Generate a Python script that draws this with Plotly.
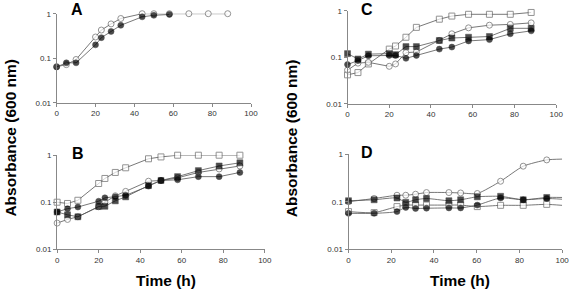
import plotly.graph_objects as go

W, H = 576, 293

# ---- data ----
t_ab = [0, 5, 10, 20, 23, 28, 33, 44, 50, 58, 68, 78, 88]
A_filled_circle_t = [0, 5, 10, 20, 23, 28, 33, 44, 50, 58]
A_filled_circle = [0.064, 0.079, 0.079, 0.20, 0.29, 0.40, 0.55, 0.85, 0.92, 0.96]
A_open_circle = [0.065, 0.072, 0.094, 0.30, 0.43, 0.59, 0.78, 1.0, 1.0, 1.0, 1.0, 1.0, 1.0]

B_open_square = [0.10, 0.094, 0.11, 0.25, 0.32, 0.43, 0.54, 0.84, 0.92, 1.0, 1.0, 1.0, 1.0]
B_filled_square = [0.062, 0.054, 0.049, 0.081, 0.082, 0.107, 0.13, 0.226, 0.29, 0.35, 0.47, 0.59, 0.69]
B_filled_circle = [0.062, 0.073, 0.079, 0.105, 0.124, 0.13, 0.14, 0.22, 0.29, 0.30, 0.35, 0.35, 0.43]
B_open_circle = [0.036, 0.043, 0.049, 0.08, 0.10, 0.137, 0.17, 0.28, 0.29, 0.33, 0.43, 0.51, 0.59]

C_open_square = [0.042, 0.047, 0.072, 0.15, 0.175, 0.27, 0.44, 0.66, 0.77, 0.84, 0.84, 0.84, 0.92]
C_open_circle = [0.053, 0.075, 0.078, 0.064, 0.072, 0.126, 0.13, 0.23, 0.32, 0.43, 0.49, 0.51, 0.55]
C_filled_square = [0.12, 0.092, 0.117, 0.12, 0.114, 0.17, 0.17, 0.23, 0.26, 0.27, 0.28, 0.42, 0.42]
C_filled_circle = [0.07, 0.085, 0.108, 0.11, 0.11, 0.095, 0.11, 0.15, 0.166, 0.225, 0.24, 0.32, 0.37]

t_d = [0, 12, 22.7, 26.8, 31.4, 36.5, 47, 52.5, 60.3, 71.2, 81.8, 92.8, 100]
D_open_circle = [0.10, 0.117, 0.137, 0.137, 0.144, 0.156, 0.156, 0.153, 0.149, 0.27, 0.56, 0.76, 0.79]
D_filled_square = [0.105, 0.11, 0.12, 0.097, 0.11, 0.117, 0.105, 0.11, 0.127, 0.13, 0.11, 0.123, 0.123]
D_filled_circle = [0.057, 0.057, 0.062, 0.076, 0.072, 0.073, 0.074, 0.074, 0.085, 0.12, 0.11, 0.117, 0.113]
D_open_square = [0.062, 0.059, 0.079, 0.085, 0.085, 0.085, 0.085, 0.085, 0.079, 0.084, 0.084, 0.088, 0.084]

x_ticks = [0, 20, 40, 60, 80, 100]
y_ticks = [0.01, 0.1, 1]
y_ticktext = ["0.01", "0.1", "1"]
panel_labels = ["A", "B", "C", "D"]

LINE = "#555555"
OPEN_EDGE = "#666666"

STYLES = {
    "filled_circle": dict(symbol="circle", color="black", line=dict(color="black", width=0.5)),
    "open_circle": dict(symbol="circle", color="white", line=dict(color=OPEN_EDGE, width=1)),
    "filled_square": dict(symbol="square", color="black", line=dict(color="black", width=0.5)),
    "open_square": dict(symbol="square", color="white", line=dict(color=OPEN_EDGE, width=1)),
}

fig = go.Figure()

def add(xs, ys, style, axis, shape="linear", last_hidden=False):
    sizes = [6] * len(xs)
    if last_hidden:
        sizes[-1] = 0
    st = STYLES[style]
    fig.add_trace(go.Scatter(
        x=xs, y=ys, mode="lines+markers",
        line=dict(color=LINE, width=0.8, shape=shape, smoothing=0.6),
        marker=dict(symbol=st["symbol"], color=st["color"], size=sizes, line=st["line"]),
        xaxis="x" + axis, yaxis="y" + axis, cliponaxis=False, showlegend=False,
        hoverinfo="skip",
    ))

ax = ["", "2", "3", "4"]
# Panel A
add(t_ab, A_open_circle, "open_circle", "")
add(A_filled_circle_t, A_filled_circle, "filled_circle", "")
# Panel B
add(t_ab, B_open_square, "open_square", "2")
add(t_ab, B_open_circle, "open_circle", "2")
add(t_ab, B_filled_circle, "filled_circle", "2")
add(t_ab, B_filled_square, "filled_square", "2")
# Panel C
add(t_ab, C_open_square, "open_square", "3")
add(t_ab, C_open_circle, "open_circle", "3")
add(t_ab, C_filled_circle, "filled_circle", "3")
add(t_ab, C_filled_square, "filled_square", "3")
# Panel D
add(t_d, D_open_square, "open_square", "4", "spline", True)
add(t_d, D_open_circle, "open_circle", "4", "spline", True)
add(t_d, D_filled_circle, "filled_circle", "4", "spline", True)
add(t_d, D_filled_square, "filled_square", "4", "spline", True)

# pixel boxes: (x0, x1, ytop, ybottom)
boxes = [(55.5, 253, 10, 102), (56, 267, 156, 253), (351, 563, 7, 103), (352, 569, 155, 253)]

tickfont = dict(family="Liberation Sans, Arial", size=8, color="#333333")
layout = dict(
    width=W, height=H, margin=dict(l=0, r=0, t=0, b=0),
    paper_bgcolor="white", plot_bgcolor="white",
)
for i, (x0, x1, yt, yb) in enumerate(boxes):
    a = ax[i]
    layout["xaxis" + a] = dict(
        domain=[x0 / W, x1 / W], range=[0, 100], anchor="y" + a,
        tickvals=x_ticks, showgrid=False, zeroline=False, showline=True,
        linecolor="#888888", linewidth=1, ticks="outside", ticklen=3,
        tickcolor="#888888", tickfont=tickfont,
    )
    layout["yaxis" + a] = dict(
        domain=[1 - yb / H, 1 - yt / H], type="log", range=[-2, 0], anchor="x" + a,
        tickvals=y_ticks, ticktext=y_ticktext, showgrid=False, zeroline=False,
        showline=True, linecolor="#888888", linewidth=1, ticks="outside",
        ticklen=3, tickcolor="#888888", tickfont=tickfont,
    )
fig.update_layout(**layout)

def note(px, py, text, size, angle=0):
    fig.add_annotation(x=px / W, y=1 - py / H, xref="paper", yref="paper",
                       xanchor="center", yanchor="middle", text=text,
                       textangle=angle, showarrow=False,
                       font=dict(family="Liberation Sans, Arial", size=size, color="black"))

letter_pos = [(76, 6), (77, 154), (371, 6), (371, 153)]
for lab, (px, py) in zip(panel_labels, letter_pos):
    note(px, py, "<b>" + lab + "</b>", 16)

for px in (9, 294):
    note(px, 138, "<b>Absorbance (600 nm)</b>", 15.5, -90)
for px in (167, 465):
    note(px, 285, "<b>Time (h)</b>", 15.5)

fig.write_html("out.html", config={"displayModeBar": False},
               post_script="document.body.style.margin='0';")
